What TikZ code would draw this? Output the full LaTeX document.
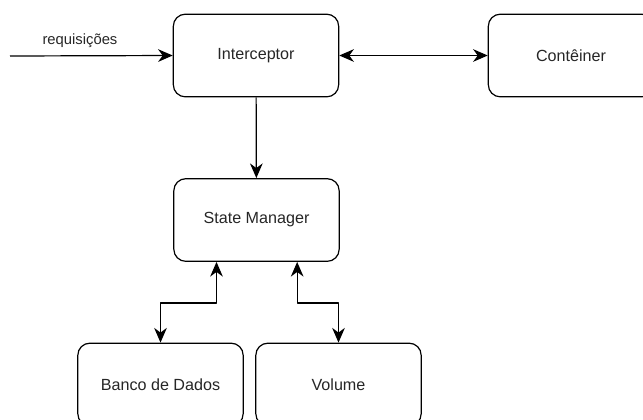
\documentclass[tikz,border=0pt]{standalone}
\usepackage{fontspec}
\setmainfont{Liberation Sans}
\usetikzlibrary{arrows.meta}
\begin{document}
\begin{tikzpicture}[line join=round,>={Stealth[length=11pt,width=9.5pt,inset=3.5pt]},line width=.9pt,x=.75pt,y=-.75pt,
	font=\fontsize{12.1}{14.5}\selectfont,
	caixa/.style={draw,rounded corners=9pt,minimum width=124pt,minimum height=62pt,inner sep=0pt,text=black!85}]
	\useasboundingbox (0,0) rectangle (643,419);
	\clip (0,0) rectangle (643,419);
	\node[caixa] (int) at (256,55.5) {Interceptor};
	\node[caixa] (cont) at (571,55.5) {Contêiner};
	\node[caixa] (sm) at (256.5,220) {State Manager};
	\node[caixa] (banco) at (160.5,384.5) {Banco de Dados};
	\node[caixa] (vol) at (338.5,384.5) {Volume};
	\coordinate (req) at (10,56);
	% entrada
	\draw[->] (req) -- (int.west) node[pos=.43,above=2pt,text=black!85,font=\fontsize{11.1}{13}\selectfont]{requisições};
	\draw[<->] (int.east) -- (cont.west);
	\draw[->] (int) -- (sm);
	% armazenamento
	\draw[<->] ([xshift=-30pt]sm.south) -- ++(0,41) -| (banco.north);
	\draw[<->] ([xshift=30.5pt]sm.south) -- ++(0,41) -| (vol.north);
\end{tikzpicture}
\end{document}
